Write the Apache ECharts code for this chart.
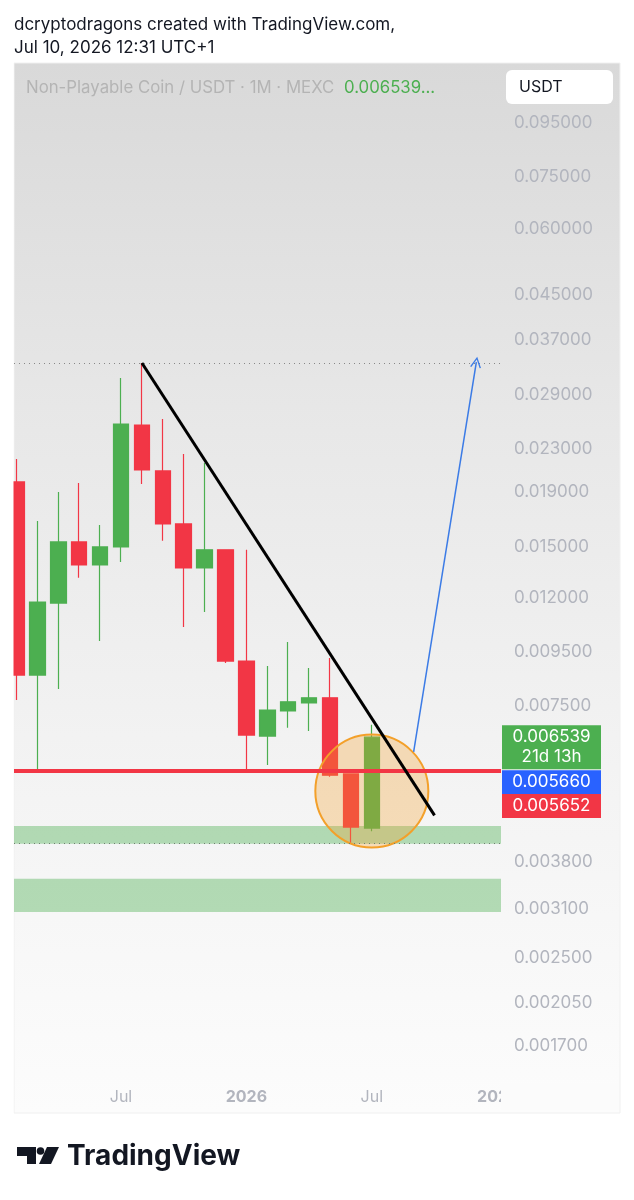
<!DOCTYPE html>
<html><head><meta charset="utf-8">
<script src="https://cdn.jsdelivr.net/npm/echarts@6/dist/echarts.min.js"></script>
<style>html,body{margin:0;padding:0;background:#fff;}#c{width:634px;height:1200px;}</style>
</head><body><div id="c"></div>
<script>
// ---- data ----
const months = ['2025-02','2025-03','2025-04','2025-05','2025-06','2025-07','2025-08','2025-09','2025-10','2025-11','2025-12',
  '2026-01','2026-02','2026-03','2026-04','2026-05','2026-06','2026-07','2026-08','2026-09','2026-10','2026-11','2026-12','2027-01'];
const opens  = [0.01988,0.00857,0.01173,0.01531,0.01385,0.01498,0.02548,0.02086,0.01656,0.01367,0.01479,0.00911,0.00657,0.00733,0.00759,0.00776,0.00557,0.00440];
const closes = [0.00857,0.01178,0.01531,0.01385,0.01498,0.02559,0.02095,0.01656,0.01367,0.01479,0.00911,0.00660,0.00736,0.00763,0.00776,0.00554,0.00442,0.006539];
const lows   = [0.00769,0.00566,0.00807,0.01309,0.00994,0.01403,0.01971,0.01538,0.01057,0.01128,0.00903,0.00566,0.00579,0.00681,0.00672,0.00550,0.00412,0.00434];
const highs  = [0.02198,0.01677,0.01904,0.01980,0.01649,0.03127,0.03338,0.02615,0.02246,0.02160,0.01479,0.01479,0.00892,0.00990,0.00884,0.00923,0.00557,0.00690];
const priceTicks = [0.095,0.075,0.06,0.045,0.037,0.029,0.023,0.019,0.015,0.012,0.0095,0.0075,0.0038,0.0031,0.0025,0.00205,0.0017];
const timeTickMonths = ['2025-07','2026-01','2026-07','2027-01'];
const timeTickLabels = ['Jul','2026','Jul','2027'];
const lastPrice = 0.006539, lastCountdown = '21d 13h';
const levelPrice = 0.00566, levelPrice2 = 0.005652;
const zones = [[0.00411,0.00444],[0.003054,0.00353]];
const highMark = 0.03338, lowMark = 0.00412;
const trendLine = [['2025-08',0.03338],['2026-10',0.00465]];
const arrowLine = [['2026-09',0.00613],['2026-12',0.0335]];
const circleAt = ['2026-07',0.00517];
const yMin = 0.001449, yMax = 0.12338;
const xMin = -0.12, xMax = 23.18;

const FONT = 'Inter, Roboto, "Noto Sans", sans-serif';
const idx = m => months.indexOf(m);
const candles = opens.map((o,i)=>[i,o,closes[i],lows[i],highs[i]]);

const chart = echarts.init(document.getElementById('c'), null, {renderer:'canvas'});
chart.setOption({
  animation:false,
  backgroundColor:'#ffffff',
  grid:{left:14,right:133,top:63,bottom:117,containLabel:false},
  xAxis:{type:'value',min:xMin,max:xMax,
    axisLine:{show:false},axisTick:{show:false},splitLine:{show:false},
    axisLabel:{customValues:timeTickMonths.map(idx),margin:6,color:'#b2b5be',fontSize:16,fontFamily:FONT,
      formatter:v=>{const k=timeTickMonths.map(idx).indexOf(Math.round(v));const t=timeTickLabels[k]||'';return /^\d{4}$/.test(t)?'{b|'+t+'}':t;},
      rich:{b:{fontWeight:'bold',color:'#b2b5be',fontSize:16,fontFamily:FONT}}}},
  yAxis:{type:'log',logBase:10,min:yMin,max:yMax,position:'right',
    axisLine:{show:false},axisTick:{show:false},splitLine:{show:false},axisLabel:{show:false}},
  graphic:[
    {type:'rect',shape:{x:14,y:63,width:606,height:1050},z:-10,
      style:{fill:new echarts.graphic.LinearGradient(0,0,0,1,[{offset:0,color:'#d9d9d9'},{offset:0.35,color:'#e8e8e8'},{offset:0.7,color:'#f4f4f4'},{offset:1,color:'#fcfcfc'}]),stroke:'#f0f0f0',lineWidth:1}},
    {type:'rect',shape:{x:0,y:60,width:13.5,height:1060},z:100,style:{fill:'#ffffff'}},
    {type:'rect',shape:{x:501,y:1084,width:118,height:26},z:100,style:{fill:'#fbfbfb'}},
    {type:'text',x:14,y:25,z:100,style:{text:'dcryptodragons created with TradingView.com,',fill:'#131722',font:'17px '+FONT,textVerticalAlign:'middle'}},
    {type:'text',x:14,y:48,z:100,style:{text:'Jul 10, 2026 12:31 UTC+1',fill:'#131722',font:'17px '+FONT,textVerticalAlign:'middle'}},
    {type:'text',x:26,y:88,z:100,style:{text:'Non-Playable Coin / USDT · 1M · MEXC',fill:'#b4b4b4',font:'16.8px '+FONT,textVerticalAlign:'middle'}},
    {type:'text',x:344,y:88,z:100,style:{text:'0.006539...',fill:'#4caf50',font:'16.8px '+FONT,textVerticalAlign:'middle'}},
    {type:'rect',shape:{x:506,y:70,width:107,height:34,r:6},z:100,style:{fill:'#ffffff'}},
    {type:'text',x:519,y:87,z:101,style:{text:'USDT',fill:'#131722',font:'16px '+FONT,textVerticalAlign:'middle'}},
    // TradingView logo
    {type:'polygon',z:100,shape:{points:[[17,1147],[36,1147],[36,1164],[27,1164],[27,1156],[17,1156]]},style:{fill:'#131722'}},
    {type:'circle',z:100,shape:{cx:40.5,cy:1151,r:3.8},style:{fill:'#131722'}},
    {type:'polygon',z:100,shape:{points:[[47,1147],[59,1147],[51,1164],[39,1164]]},style:{fill:'#131722'}},
    {type:'text',x:67,y:1157,z:100,style:{text:'TradingView',fill:'#131722',font:'bold 28px '+FONT,textVerticalAlign:'middle'}}
  ],
  series:[
    {name:'zones',type:'line',data:[],z:1,clip:false,silent:true,
      markArea:{silent:true,itemStyle:{color:'rgba(76,175,80,0.4)'},data:zones.map(z=>[{yAxis:z[0]},{yAxis:z[1]}])},
      markLine:{silent:true,precision:8,symbol:'none',label:{show:false},
        data:[{yAxis:highMark,lineStyle:{color:'#888888',type:[1,4],width:1}},{yAxis:lowMark,lineStyle:{color:'#6f806f',type:[1,4],width:1}}]}},
    {name:'NPC/USDT',type:'candlestick',data:candles,encode:{x:0,y:[1,2,3,4]},barWidth:16,z:2,clip:true,
      itemStyle:{color:'#4caf50',color0:'#f23645',borderColor:'#4caf50',borderColor0:'#f23645',borderWidth:1.2}},
    {name:'level',type:'line',data:[],z:3,clip:false,silent:true,
      markLine:{silent:true,precision:8,symbol:'none',label:{show:false},
        data:[{yAxis:levelPrice,lineStyle:{color:'#f23645',width:4,type:'solid'}}]}},
    {name:'circle',type:'scatter',data:[[idx(circleAt[0]),circleAt[1]]],symbolSize:113,z:4,silent:true,
      itemStyle:{color:'rgba(245,160,40,0.3)',borderColor:'#f3a02a',borderWidth:2,opacity:1}},
    {name:'drawings',type:'line',data:[],z:5,clip:false,silent:true,
      markLine:{silent:true,precision:8,label:{show:false},
        data:[
          [{coord:[idx(trendLine[0][0]),trendLine[0][1]],symbol:'none',lineStyle:{color:'#000000',width:3,type:'solid'}},
           {coord:[idx(trendLine[1][0]),trendLine[1][1]],symbol:'none'}],
          [{coord:[idx(arrowLine[0][0]),arrowLine[0][1]],symbol:'none',lineStyle:{color:'#3b7be6',width:1.5,type:'solid'}},
           {coord:[idx(arrowLine[1][0]),arrowLine[1][1]],symbol:'path://M0,12 L6,0 L12,12 L10.6,12.6 L6,3.2 L1.4,12.6 Z',symbolSize:[11,11]}]
        ]}},
    {name:'priceScale',type:'line',data:[],z:6,clip:false,silent:true,
      markLine:{silent:true,precision:8,symbol:'none',lineStyle:{color:'rgba(0,0,0,0)',width:1,opacity:1,type:'solid'},
        label:{show:true,position:'end',distance:13,color:'#b2b5be',opacity:1,fontSize:17,fontFamily:FONT,padding:[3,0,0,0],formatter:p=>Number(p.value).toFixed(6)},
        data:priceTicks.map(v=>({yAxis:v}))},
      markPoint:{silent:true,symbol:'rect',
        label:{show:true,position:'inside',color:'#ffffff',fontSize:17,fontFamily:FONT,lineHeight:20},
        data:[
          {coord:[xMax,lastPrice],symbolSize:[99,44],symbolOffset:[50.5,10],itemStyle:{color:'#4caf50'},label:{formatter:lastPrice.toFixed(6)+'\n'+lastCountdown}},
          {coord:[xMax,levelPrice],symbolSize:[99,24],symbolOffset:[50.5,12],itemStyle:{color:'#2962ff'},label:{formatter:levelPrice.toFixed(6)}},
          {coord:[xMax,levelPrice2],symbolSize:[99,24],symbolOffset:[50.5,35.5],itemStyle:{color:'#f23645'},label:{formatter:levelPrice2.toFixed(6)}}
        ]}}
  ]
});
</script></body></html>
